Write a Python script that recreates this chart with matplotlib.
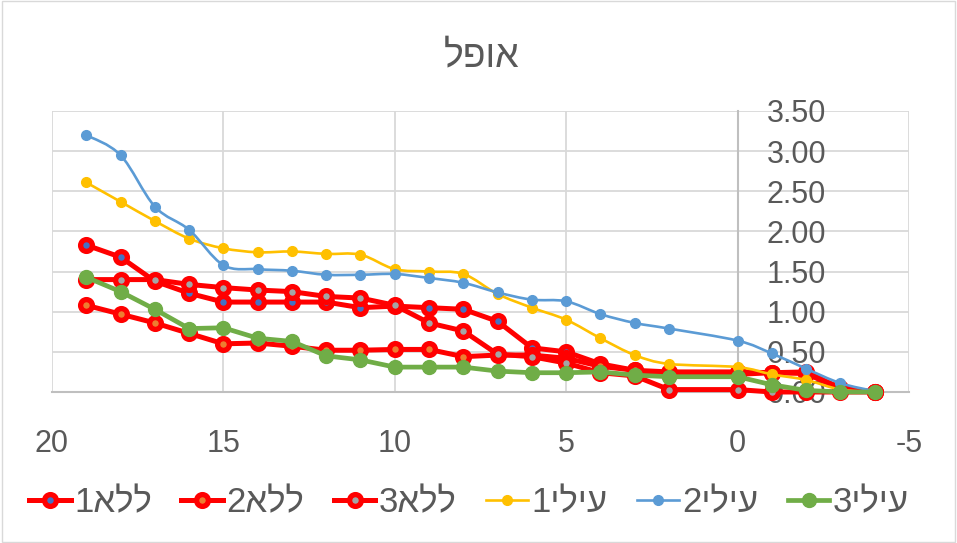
import numpy as np
import matplotlib.pyplot as plt
from matplotlib.path import Path
from matplotlib.patches import PathPatch, Rectangle
from matplotlib.lines import Line2D

plt.rcParams['font.family'] = ['Liberation Sans', 'DejaVu Sans']
plt.rcParams['axes.unicode_minus'] = False

# data (x axis is reversed, x=1 has no point)
x = [19, 18, 17, 16, 15, 14, 13, 12, 11, 10, 9, 8, 7, 6, 5, 4, 3, 2, 0, -1, -2, -3, -4]

lla1 = [1.83, 1.68, 1.38, 1.23, 1.12, 1.12, 1.12, 1.12, 1.05, 1.07, 1.05, 1.03, 0.88, 0.55,
        0.50, 0.35, 0.27, 0.25, 0.25, 0.24, 0.25, 0.05, 0.00]
lla2 = [1.08, 0.97, 0.86, 0.73, 0.60, 0.61, 0.57, 0.52, 0.52, 0.53, 0.53, 0.44, 0.46, 0.46,
        0.42, 0.32, 0.27, 0.22, 0.22, 0.24, 0.23, 0.04, 0.00]
lla3 = [1.40, 1.40, 1.40, 1.34, 1.30, 1.27, 1.25, 1.19, 1.17, 1.08, 0.86, 0.76, 0.47, 0.44,
        0.36, 0.24, 0.20, 0.03, 0.03, 0.00, 0.00, 0.00, 0.00]
ili1 = [2.61, 2.37, 2.13, 1.91, 1.79, 1.74, 1.75, 1.72, 1.71, 1.53, 1.50, 1.47, 1.22, 1.05,
        0.90, 0.67, 0.46, 0.35, 0.31, 0.22, 0.15, 0.03, 0.00]
ili2 = [3.20, 2.95, 2.31, 2.02, 1.58, 1.53, 1.51, 1.46, 1.46, 1.47, 1.42, 1.36, 1.24, 1.15,
        1.13, 0.97, 0.86, 0.79, 0.64, 0.48, 0.29, 0.11, 0.01]
ili3 = [1.43, 1.25, 1.03, 0.79, 0.80, 0.67, 0.63, 0.45, 0.40, 0.31, 0.31, 0.31, 0.26, 0.24,
        0.24, 0.25, 0.21, 0.19, 0.19, 0.09, 0.02, 0.00, 0.00]

# labels typed in visual order (matplotlib has no bidi)
labels = ['1אלל', '2אלל', '3אלל', '1יליע', '2יליע', '3יליע']
title = 'לפוא'
xticks = [20, 15, 10, 5, 0, -5]
xtick_labels = ['20', '15', '10', '5', '0', '-5']
yticks = [0, 0.5, 1.0, 1.5, 2.0, 2.5, 3.0, 3.5]

red = '#FF0000'
txt = '#595959'


def smooth_path(xs, ys):
    # excel style smoothed line: cubic bezier through every point
    pts = np.column_stack([np.asarray(xs, float), np.asarray(ys, float)])
    n = len(pts)
    verts = [pts[0]]
    codes = [Path.MOVETO]
    for i in range(n - 1):
        p0 = pts[max(i - 1, 0)]
        p1 = pts[i]
        p2 = pts[i + 1]
        p3 = pts[min(i + 2, n - 1)]
        verts += [p1 + (p2 - p0) / 6.0, p2 - (p3 - p1) / 6.0, p2]
        codes += [Path.CURVE4] * 3
    return Path(verts, codes)


fig = plt.figure(figsize=(9.57, 5.43), dpi=100)
fig.patches.append(Rectangle((0.002, 0.002), 0.996, 0.996, transform=fig.transFigure,
                             fill=False, edgecolor='#D9D9D9', lw=1))
ax = fig.add_axes([0.0543, 0.2781, 0.8955, 0.5175])

handles = []
# red series with coloured centres
for ys, inner in [(lla1, '#4472C4'), (lla2, '#ED7D31'), (lla3, '#A5A5A5')]:
    ax.plot(x, ys, color=red, lw=3.6, marker='o', ms=8.5, mew=3.8,
            mec=red, mfc=inner, clip_on=False, zorder=3)
    handles.append(Line2D([], [], color=red, lw=3.6, marker='o', ms=8.5, mew=3.8,
                          mec=red, mfc=inner))

# yellow and blue are smoothed
for ys, col in [(ili1, '#FFC000'), (ili2, '#5B9BD5')]:
    ax.add_patch(PathPatch(smooth_path(x, ys), fill=False, edgecolor=col, lw=1.9,
                           zorder=4, clip_on=False))
    ax.plot(x, ys, ls='none', marker='o', ms=7, color=col, clip_on=False, zorder=4)
    handles.append(Line2D([], [], color=col, lw=1.9, marker='o', ms=7))

ax.plot(x, ili3, color='#70AD47', lw=3.4, marker='o', ms=10, clip_on=False, zorder=5)
handles.append(Line2D([], [], color='#70AD47', lw=3.4, marker='o', ms=10))

ax.set_xlim(20, -5)
ax.set_ylim(0, 3.5)
ax.set_xticks(xticks)
ax.set_xticklabels(xtick_labels)
ax.set_yticks(yticks)
ax.set_yticklabels(['%.2f' % v for v in yticks])

ax.grid(color='#D9D9D9', lw=1.3, zorder=0)
ax.set_axisbelow(True)
for s in ['top', 'left']:
    ax.spines[s].set_visible(False)
ax.spines['bottom'].set_color('#BFBFBF')
ax.spines['bottom'].set_linewidth(1.5)
ax.yaxis.tick_right()
ax.spines['right'].set_position(('data', 0))
ax.spines['right'].set_color('#BFBFBF')
ax.spines['right'].set_linewidth(1.5)
ax.tick_params(axis='y', length=0, pad=21, labelsize=22, labelcolor=txt)
ax.tick_params(axis='x', length=0, pad=27, labelsize=22, labelcolor=txt)
for t in ax.get_yticklabels():
    t.set_zorder(6)

fig.text(0.503, 1 - 56 / 543, title, ha='center', va='center', fontsize=27, color=txt)

fig.legend(handles, labels, loc='center', bbox_to_anchor=(0.49, 1 - 503 / 543), ncol=6,
           frameon=False, fontsize=25, handlelength=1.2, handletextpad=0.1,
           columnspacing=0.85, labelcolor=txt)

fig.savefig('out.png', dpi=100)
